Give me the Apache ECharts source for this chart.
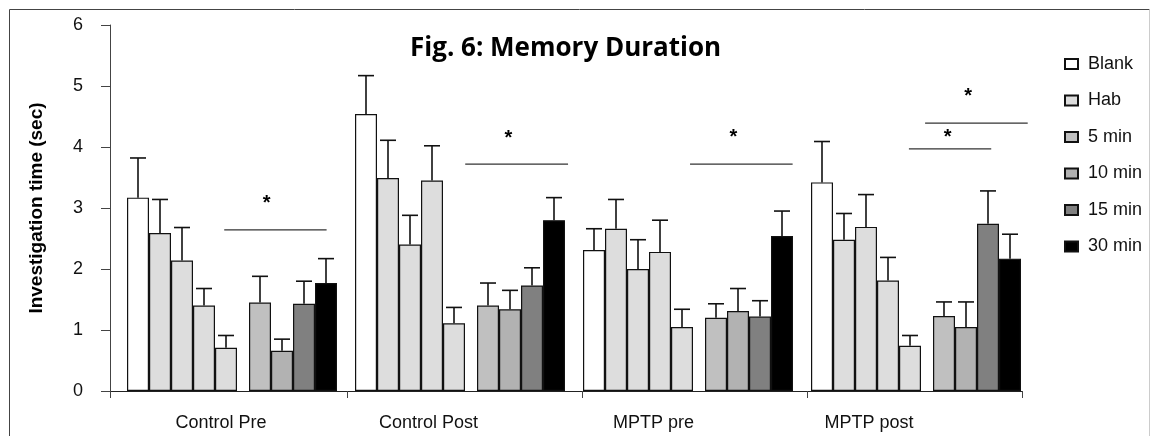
<!DOCTYPE html>
<html>
<head>
<meta charset="utf-8">
<script src="https://cdn.jsdelivr.net/npm/echarts@6/dist/echarts.min.js"></script>
<style>
html, body { margin: 0; padding: 0; background: #fff; }
#chart { width: 1154px; height: 436px; }
</style>
</head>
<body>
<div id="chart"></div>
<script>
// groups on the x axis
var categories = ['Control Pre', 'Control Post', 'MPTP pre', 'MPTP post'];

// mean investigation time (sec)
var blank = [3.17, 4.54, 2.31, 3.42];
var hab1 = [2.59, 3.49, 2.66, 2.48];
var hab2 = [2.14, 2.40, 2.00, 2.69];
var hab3 = [1.40, 3.45, 2.28, 1.81];
var hab4 = [0.71, 1.11, 1.05, 0.74];
var min5 = [1.45, 1.40, 1.20, 1.23];
var min10 = [0.66, 1.34, 1.31, 1.05];
var min15 = [1.43, 1.73, 1.22, 2.74];
var min30 = [1.77, 2.80, 2.54, 2.17];

// upper error (sem)
var blankErr = [0.65, 0.63, 0.35, 0.67];
var hab1Err = [0.55, 0.62, 0.48, 0.43];
var hab2Err = [0.54, 0.48, 0.48, 0.53];
var hab3Err = [0.28, 0.57, 0.52, 0.38];
var hab4Err = [0.20, 0.26, 0.29, 0.17];
var min5Err = [0.43, 0.37, 0.23, 0.23];
var min10Err = [0.19, 0.31, 0.37, 0.41];
var min15Err = [0.37, 0.29, 0.26, 0.54];
var min30Err = [0.40, 0.37, 0.41, 0.40];

// significance bars: [x from, x to, y] on a 0..4 group scale, and the stars
var sigLines = [[0.501, 0.950, 2.64], [1.558, 2.009, 3.72], [2.544, 2.994, 3.72], [3.504, 3.865, 3.97], [3.575, 4.025, 4.39]];
var sigStars = [[0.687, 3.07], [1.747, 4.14], [2.734, 4.16], [3.674, 4.15], [3.764, 4.83]];

var legendNames = ['Blank', 'Hab', '5 min', '10 min', '15 min', '30 min'];

// bar slots inside one group (null = spacer)
var slots = [
    {name: null, width: 16},
    {name: 'Blank', data: blank, err: blankErr, color: '#ffffff', width: 22},
    {name: 'Hab', data: hab1, err: hab1Err, color: '#dddddd', width: 22},
    {name: 'Hab', data: hab2, err: hab2Err, color: '#dddddd', width: 22},
    {name: 'Hab', data: hab3, err: hab3Err, color: '#dddddd', width: 22},
    {name: 'Hab', data: hab4, err: hab4Err, color: '#dddddd', width: 22},
    {name: null, width: 12},
    {name: '5 min', data: min5, err: min5Err, color: '#c0c0c0', width: 22},
    {name: '10 min', data: min10, err: min10Err, color: '#b2b2b2', width: 22},
    {name: '15 min', data: min15, err: min15Err, color: '#808080', width: 22},
    {name: '30 min', data: min30, err: min30Err, color: '#000000', width: 22}
];

var total = 0;
for (var i = 0; i < slots.length; i++) total += slots[i].width;
var slotCenter = [];
var acc = -total / 2;
for (var i = 0; i < slots.length; i++) {
    slotCenter.push(acc + slots[i].width / 2);
    acc += slots[i].width;
}

// where the group names sit under the axis (the original is not centred)
var labelAt = [0.487, 1.397, 2.384, 3.329];

var series = [];
var errData = [];
for (var i = 0; i < slots.length; i++) {
    var s = slots[i];
    if (s.name === null) {
        series.push({
            name: '_spacer' + i,
            type: 'bar',
            barWidth: s.width,
            barGap: '0%',
            xAxisIndex: 0,
            data: categories.map(function () { return '-'; })
        });
        continue;
    }
    series.push({
        name: s.name,
        type: 'bar',
        barWidth: s.width,
        barGap: '0%',
        xAxisIndex: 0,
        itemStyle: {color: s.color, borderColor: '#111', borderWidth: 1.2},
        data: s.data
    });
    for (var j = 0; j < categories.length; j++) {
        errData.push([j, i, s.data[j], s.data[j] + s.err[j]]);
    }
}

series.push({
    type: 'custom',
    xAxisIndex: 0,
    z: 5,
    silent: true,
    encode: {x: 0, y: [2, 3]},
    data: errData,
    renderItem: function (params, api) {
        var base = api.coord([api.value(0), api.value(2)]);
        var top = api.coord([api.value(0), api.value(3)]);
        var x = base[0] + slotCenter[api.value(1)];
        var st = {stroke: '#111', lineWidth: 1.6};
        return {
            type: 'group',
            children: [
                {type: 'line', shape: {x1: x, y1: base[1], x2: x, y2: top[1]}, style: st},
                {type: 'line', shape: {x1: x - 8, y1: top[1], x2: x + 8, y2: top[1]}, style: st}
            ]
        };
    }
});

// significance lines
series.push({
    type: 'custom',
    xAxisIndex: 1,
    z: 5,
    silent: true,
    clip: false,
    encode: {x: [0, 1], y: 2},
    data: sigLines,
    renderItem: function (params, api) {
        var a = api.coord([api.value(0), api.value(2)]);
        var b = api.coord([api.value(1), api.value(2)]);
        return {type: 'line', shape: {x1: a[0], y1: a[1], x2: b[0], y2: b[1]}, style: {stroke: '#333', lineWidth: 1.3}};
    }
});
series.push({
    type: 'custom',
    xAxisIndex: 1,
    z: 5,
    silent: true,
    clip: false,
    encode: {x: 0, y: 1},
    data: sigStars,
    renderItem: function (params, api) {
        var p = api.coord([api.value(0), api.value(1)]);
        return {
            type: 'text',
            x: p[0], y: p[1],
            style: {text: '*', fill: '#000', font: 'bold 20px "Liberation Sans"', align: 'center', verticalAlign: 'middle'}
        };
    }
});

var chart = echarts.init(document.getElementById('chart'));
chart.setOption({
    animation: false,
    backgroundColor: '#fff',
    title: {
        text: 'Fig. 6: Memory Duration',
        left: 405,
        top: 31,
        textStyle: {fontFamily: 'Open Sans', fontWeight: 'bold', fontSize: 26, color: '#000'}
    },
    legend: {
        data: legendNames,
        orient: 'vertical',
        left: 1059,
        top: 50,
        icon: 'rect',
        itemWidth: 13,
        itemHeight: 10,
        itemGap: 18.5,
        selectedMode: false,
        textStyle: {fontFamily: 'Liberation Sans', fontSize: 18, color: '#111', padding: [0, 0, 0, 5]}
    },
    grid: {left: 110, right: 132, top: 25, bottom: 45},
    xAxis: [{
        type: 'category',
        data: categories,
        boundaryGap: true,
        axisLine: {lineStyle: {color: '#222', width: 1}},
        axisTick: {show: false},
        axisLabel: {show: false},
        splitLine: {show: false}
    }, {
        type: 'value',
        min: 0,
        max: 4,
        position: 'bottom',
        axisLine: {show: false},
        splitLine: {show: false},
        axisTick: {show: true, length: 7, customValues: [0, 1.039, 2.07, 3.057, 4], lineStyle: {color: '#444'}},
        axisLabel: {
            show: true,
            margin: 23,
            customValues: labelAt,
            fontFamily: 'Liberation Sans',
            fontSize: 18,
            color: '#111',
            formatter: function (v) {
                var best = 0;
                for (var k = 1; k < labelAt.length; k++) {
                    if (Math.abs(labelAt[k] - v) < Math.abs(labelAt[best] - v)) best = k;
                }
                return categories[best];
            }
        }
    }],
    yAxis: {
        type: 'value',
        min: 0,
        max: 6,
        interval: 1,
        name: 'Investigation time (sec)',
        nameLocation: 'middle',
        nameGap: 64,
        nameTextStyle: {fontFamily: 'Liberation Sans', fontWeight: 'bold', fontSize: 19, color: '#000'},
        axisLine: {show: true, lineStyle: {color: '#444', width: 1}},
        axisTick: {show: true, length: 9, lineStyle: {color: '#444'}},
        axisLabel: {fontFamily: 'Liberation Sans', fontSize: 18, color: '#111', margin: 27},
        splitLine: {show: false}
    },
    graphic: [
        {type: 'line', shape: {x1: 9.5, y1: 9.5, x2: 1149.5, y2: 9.5}, style: {stroke: '#444', lineWidth: 1}},
        {type: 'line', shape: {x1: 9.5, y1: 9.5, x2: 9.5, y2: 436}, style: {stroke: '#444', lineWidth: 1}},
        {type: 'line', shape: {x1: 1149.5, y1: 9.5, x2: 1149.5, y2: 436}, style: {stroke: '#ccc', lineWidth: 1}}
    ],
    series: series
});
</script>
</body>
</html>
